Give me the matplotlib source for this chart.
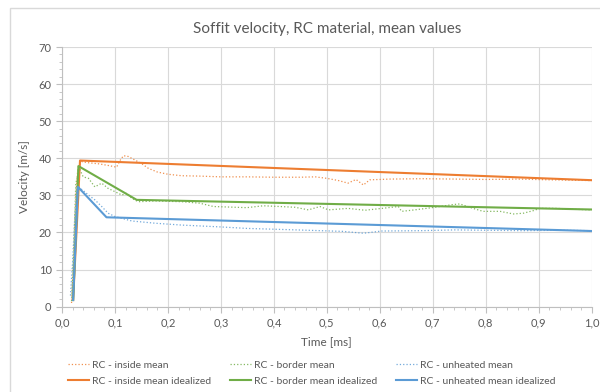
import numpy as np
import matplotlib
matplotlib.use('Agg')
import matplotlib.pyplot as plt
from matplotlib.ticker import MultipleLocator, FuncFormatter
from matplotlib.patches import Rectangle

plt.rcParams['font.family'] = ['Lato', 'DejaVu Sans']

insideX = [0.018, 0.022, 0.026, 0.030, 0.037, 0.05, 0.07, 0.09, 0.103, 0.110, 0.116, 0.125,
           0.138, 0.150, 0.163, 0.18, 0.20, 0.226, 0.26, 0.30, 0.35, 0.40, 0.45, 0.478, 0.50,
           0.522, 0.54, 0.555, 0.569, 0.581, 0.62, 0.68, 0.742, 0.80, 0.86, 0.92, 1.0]
insideY = [1.0, 12, 30, 37.5, 39.1, 38.8, 38.5, 38.0, 37.6, 39.5, 40.7, 40.5,
           39.5, 38.6, 37.3, 36.3, 35.7, 35.3, 35.2, 35.0, 35.0, 34.9, 34.9, 35.0, 34.6,
           34.0, 33.3, 34.3, 32.8, 34.2, 34.4, 34.5, 34.4, 34.3, 34.4, 34.2, 34.0]

borderX = [0.018, 0.022, 0.026, 0.032, 0.040, 0.050, 0.062, 0.075, 0.087, 0.100, 0.113, 0.122,
           0.132, 0.144, 0.176, 0.226, 0.26, 0.286, 0.349, 0.38, 0.412, 0.44, 0.465, 0.487,
           0.503, 0.54, 0.572, 0.604, 0.635, 0.641, 0.666, 0.704, 0.736, 0.751, 0.776, 0.795,
           0.827, 0.852, 0.871, 0.890, 0.902, 0.934, 0.959, 1.0]
borderY = [1.5, 15, 33, 37.5, 35.0, 34.6, 32.3, 33.3, 31.9, 31.0, 30.1, 30.6,
           29.2, 28.3, 28.5, 28.3, 27.9, 27.0, 26.7, 27.2, 27.0, 26.8, 26.1, 27.0,
           26.1, 26.5, 26.0, 26.5, 27.0, 25.7, 26.1, 26.8, 27.5, 27.7, 26.5, 25.7,
           25.7, 25.0, 25.2, 25.9, 26.5, 26.5, 26.3, 26.1]

unheatedX = [0.016, 0.020, 0.024, 0.028, 0.031, 0.040, 0.050, 0.062, 0.075, 0.087, 0.100, 0.132,
             0.176, 0.226, 0.30, 0.349, 0.42, 0.487, 0.53, 0.569, 0.604, 0.68, 0.742, 0.80,
             0.87, 0.94, 1.0]
unheatedY = [3.0, 12, 24, 31, 32.3, 31.3, 30.1, 28.8, 27.0, 25.2, 24.3, 23.1,
             22.5, 22.0, 21.5, 21.1, 20.8, 20.5, 20.3, 19.8, 20.4, 20.5, 20.7, 20.6,
             20.5, 20.6, 20.5]

# idealized curves
insideIdX = [0.021, 0.034, 1.0]
insideIdY = [1.8, 39.4, 34.1]
borderIdX = [0.021, 0.031, 0.141, 1.0]
borderIdY = [1.8, 37.9, 28.8, 26.2]
unheatedIdX = [0.021, 0.030, 0.084, 1.0]
unheatedIdY = [1.8, 32.3, 24.1, 20.4]

orange = '#ED7D31'
green = '#70AD47'
blue = '#5B9BD5'
textGrey = '#595959'
gridGrey = '#d9d9d9'

fig = plt.figure(figsize=(6, 3.92), dpi=100)
# chart frame, only left and top edge are inside the picture
fig.patches.append(Rectangle((10 / 600, -0.5), 2, 1.5 - 8 / 392, transform=fig.transFigure,
                             fill=False, edgecolor=gridGrey, linewidth=1.0))
ax = fig.add_axes([62 / 600, 1 - 306.7 / 392, (591.7 - 62) / 600, (306.7 - 47) / 392])

h1, = ax.plot(insideX, insideY, ':', color=orange, lw=0.9, alpha=0.85, label='RC - inside mean')
h2, = ax.plot(insideIdX, insideIdY, '-', color=orange, lw=1.5, label='RC - inside mean idealized')
h3, = ax.plot(borderX, borderY, ':', color=green, lw=0.9, alpha=0.85, label='RC - border mean')
h4, = ax.plot(borderIdX, borderIdY, '-', color=green, lw=1.5, label='RC - border mean idealized')
h5, = ax.plot(unheatedX, unheatedY, ':', color=blue, lw=0.9, alpha=0.85, label='RC - unheated mean')
h6, = ax.plot(unheatedIdX, unheatedIdY, '-', color=blue, lw=1.5, label='RC - unheated mean idealized')

ax.set_xlim(0, 1.0)
ax.set_ylim(0, 70)
ax.xaxis.set_major_locator(MultipleLocator(0.1))
ax.xaxis.set_minor_locator(MultipleLocator(0.02))
ax.yaxis.set_major_locator(MultipleLocator(10))
ax.yaxis.set_minor_locator(MultipleLocator(2))
ax.xaxis.set_major_formatter(FuncFormatter(lambda v, p: ('%.1f' % v).replace('.', ',')))
ax.grid(True, which='major', color=gridGrey, linewidth=0.8)
ax.set_axisbelow(True)
for s in ['top', 'right']:
    ax.spines[s].set_visible(False)
for s in ['left', 'bottom']:
    ax.spines[s].set_color('#bfbfbf')
ax.tick_params(which='both', colors='#bfbfbf', labelcolor=textGrey, labelsize=8)
ax.tick_params(which='major', length=4)
ax.tick_params(which='minor', length=2.5)

ax.set_title('Soffit velocity, RC material, mean values', color=textGrey, fontsize=11, pad=10)
ax.set_xlabel('Time [ms]', color=textGrey, fontsize=8.5, labelpad=6)
ax.set_ylabel('Velocity [m/s]', color=textGrey, fontsize=8.5, labelpad=6)

fig.legend(handles=[h1, h2, h3, h4, h5, h6], ncol=3, loc='center',
           bbox_to_anchor=(0.52, 0.048), frameon=False, fontsize=7.5,
           labelcolor=textGrey, handlelength=2.0, handletextpad=0.3,
           columnspacing=1.8, labelspacing=0.65)

fig.savefig('out.png', dpi=100)
